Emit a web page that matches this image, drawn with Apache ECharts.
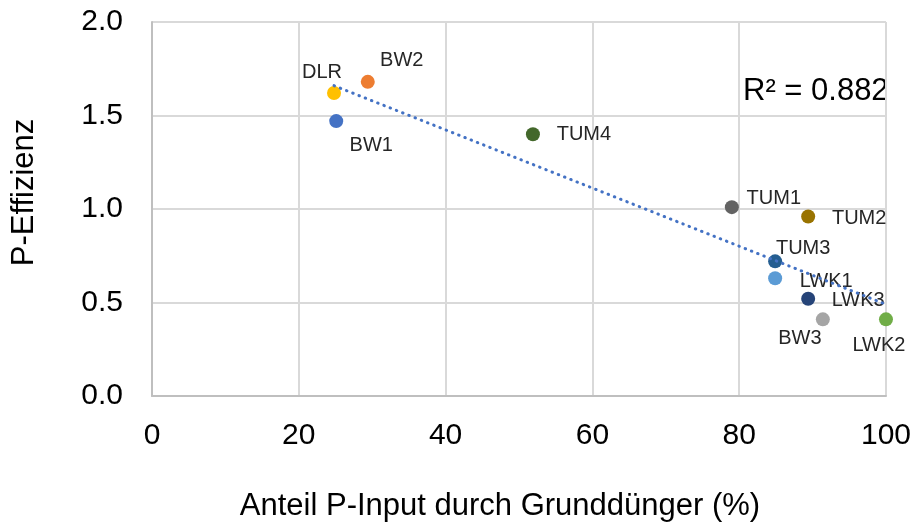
<!DOCTYPE html>
<html>
<head>
<meta charset="utf-8">
<script src="https://cdn.jsdelivr.net/npm/echarts@6/dist/echarts.min.js"></script>
<style>
  html, body { margin: 0; padding: 0; background: #fff; }
  #chart { width: 914px; height: 527px; }
</style>
</head>
<body>
<div id="chart"></div>
<script>
// Messpunkte
const names = ["DLR", "BW2", "BW1", "TUM4", "TUM1", "TUM2", "TUM3", "LWK1", "LWK3", "BW3", "LWK2"];
const anteilGrunddunger = [24.8, 29.4, 25.1, 51.9, 79.0, 89.4, 84.9, 84.9, 89.4, 91.4, 100];
const pEffizienz = [1.62, 1.68, 1.47, 1.40, 1.01, 0.96, 0.72, 0.63, 0.52, 0.41, 0.41];
const xTicks = [0, 20, 40, 60, 80, 100];
const yTicks = [0, 0.5, 1.0, 1.5, 2.0];

// Farben + Beschriftungsversatz (nur Styling)
const pointColors = {
  DLR: "#FFC000", BW2: "#ED7D31", BW1: "#4472C4", TUM4: "#43682B",
  TUM1: "#636363", TUM2: "#997300", TUM3: "#255E91", LWK1: "#5B9BD5",
  LWK3: "#264478", BW3: "#A5A5A5", LWK2: "#70AD47"
};
const labelOffsets = {
  DLR: [-12, -21], BW2: [34, -21], BW1: [35, 24], TUM4: [51, 0],
  TUM1: [42, -9], TUM2: [51, 2], TUM3: [28, -13], LWK1: [51, 3],
  LWK3: [50, 2], BW3: [-23, 19], LWK2: [-7, 26]
};

// lineare Regression
const n = names.length;
const mx = anteilGrunddunger.reduce((a, b) => a + b, 0) / n;
const my = pEffizienz.reduce((a, b) => a + b, 0) / n;
let sxy = 0, sxx = 0, syy = 0;
for (let i = 0; i < n; i++) {
  const dx = anteilGrunddunger[i] - mx, dy = pEffizienz[i] - my;
  sxy += dx * dy; sxx += dx * dx; syy += dy * dy;
}
const slope = sxy / sxx;
const intercept = my - slope * mx;
const r2 = (sxy * sxy) / (sxx * syy);
const xMin = Math.min(...anteilGrunddunger);
const xMax = Math.max(...anteilGrunddunger);
const trend = [[xMin, intercept + slope * xMin], [xMax, intercept + slope * xMax]];

const font = "Liberation Sans, Arial, sans-serif";
const myChart = echarts.init(document.getElementById("chart"));

const scatterData = names.map((name, i) => ({
  name: name,
  value: [anteilGrunddunger[i], pEffizienz[i]],
  itemStyle: { color: pointColors[name], opacity: 1 },
  label: { offset: labelOffsets[name] }
}));

const option = {
  animation: false,
  textStyle: { fontFamily: font },
  grid: { left: 152, right: 28, top: 22, bottom: 129 },
  xAxis: {
    type: "value",
    min: xTicks[0],
    max: xTicks[xTicks.length - 1],
    interval: 20,
    name: "Anteil P-Input durch Grunddünger (%)",
    nameLocation: "middle",
    nameGap: 95,
    nameTextStyle: { fontSize: 31, color: "#000", fontFamily: font, padding: [0, 38, 0, 0] },
    axisLine: { show: true, lineStyle: { color: "#BFBFBF", width: 2 } },
    axisTick: { show: false },
    axisLabel: { fontSize: 30, color: "#000", margin: 25, fontFamily: font },
    splitLine: { show: true, lineStyle: { color: "#D9D9D9", width: 2 } }
  },
  yAxis: {
    type: "value",
    min: yTicks[0],
    max: yTicks[yTicks.length - 1],
    interval: 0.5,
    name: "P-Effizienz",
    nameLocation: "middle",
    nameGap: 112,
    nameTextStyle: { fontSize: 31, color: "#000", fontFamily: font, padding: [0, 0, 0, 33] },
    axisLine: { show: true, lineStyle: { color: "#BFBFBF", width: 2 } },
    axisTick: { show: false },
    axisLabel: {
      fontSize: 30, color: "#000", margin: 29, fontFamily: font,
      formatter: (v) => v.toFixed(1)
    },
    splitLine: { show: true, lineStyle: { color: "#D9D9D9", width: 2 } }
  },
  graphic: [{
    type: "text",
    left: 743,
    top: 76,
    style: {
      text: "R² = " + r2.toFixed(3),
      fontSize: 31,
      fill: "#000",
      fontFamily: font
    }
  }],
  series: [
    {
      type: "scatter",
      symbolSize: 14,
      data: scatterData,
      label: {
        show: true,
        position: "inside",
        formatter: "{b}",
        fontSize: 20,
        color: "#262626",
        fontFamily: font
      },
      z: 2
    },
    {
      type: "line",
      data: trend,
      showSymbol: false,
      symbol: "none",
      lineStyle: { color: "#4472C4", width: 3, type: [0.5, 6.2], cap: "round" },
      silent: true,
      z: 3
    }
  ]
};
myChart.setOption(option);
</script>
</body>
</html>
